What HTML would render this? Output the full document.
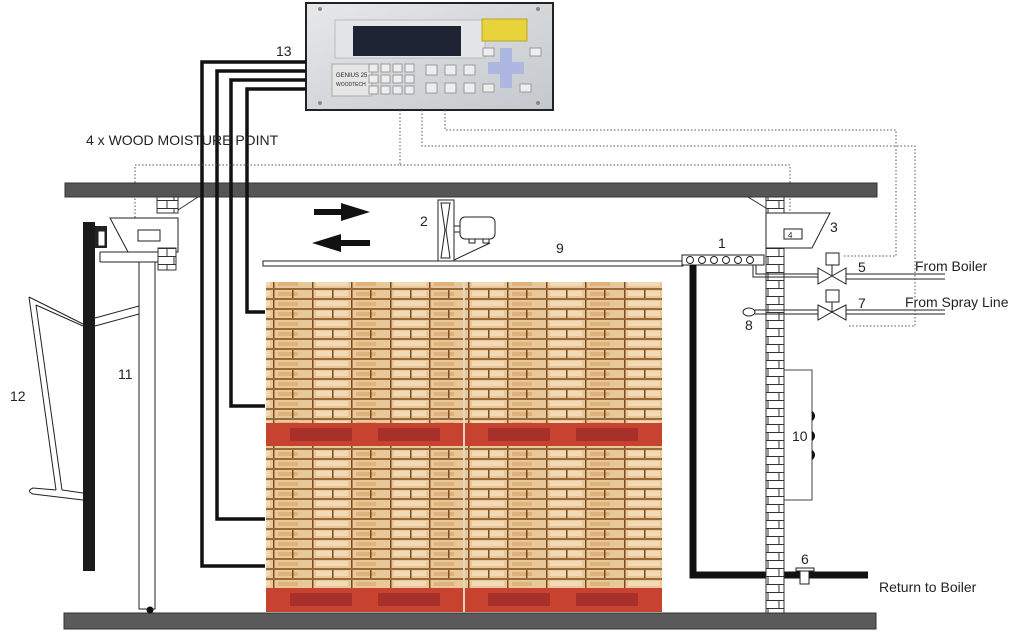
<!DOCTYPE html>
<html><head><meta charset="utf-8"><style>
html,body{margin:0;padding:0;background:#fff;width:1023px;height:640px;overflow:hidden}
svg{display:block}
text{font-family:"Liberation Sans",sans-serif;fill:#222}
</style></head><body>
<svg width="1023" height="640" viewBox="0 0 1023 640" xmlns="http://www.w3.org/2000/svg">
<defs>
<pattern id="wood" width="78" height="10" patternUnits="userSpaceOnUse">
<rect width="78" height="10" fill="#e8c898"/>
<rect y="8" width="78" height="2" fill="#9a6a3a"/>
<rect x="0" y="0" width="1.5" height="8" fill="#7a4a22"/>
<rect x="39" y="0" width="1.5" height="8" fill="#7a4a22"/>
<rect x="4" y="1" width="32" height="5" fill="#f2dab6"/>
<rect x="44" y="2" width="20" height="4" fill="#dfb27c"/>
</pattern>
<pattern id="wood2" width="78" height="20" patternUnits="userSpaceOnUse">
<rect width="78" height="20" fill="url(#wood)"/>
<rect x="20" y="10" width="1.5" height="8" fill="#7a4a22"/>
<rect x="58" y="10" width="1.5" height="8" fill="#7a4a22"/>
</pattern>
<pattern id="brick" width="18" height="16" patternUnits="userSpaceOnUse">
<rect width="18" height="16" fill="#fff"/>
<path d="M0 0.5H18M0 8.5H18M12 0V8M5 8V16" stroke="#333" stroke-width="1" fill="none"/>
</pattern>
<linearGradient id="silver" x1="0" y1="0" x2="1" y2="1">
<stop offset="0" stop-color="#e6e8ea"/><stop offset="1" stop-color="#c4c8cc"/>
</linearGradient>
</defs>

<!-- slabs -->
<rect x="65" y="183" width="812" height="14" fill="#555" stroke="#333"/>
<rect x="64" y="613" width="812" height="16" fill="#5a5a5a" stroke="#333"/>

<!-- controller -->
<rect x="306" y="3" width="247" height="107" fill="url(#silver)" stroke="#222" stroke-width="2"/>
<rect x="335" y="20" width="150" height="38" fill="#e4e5e6" stroke="#bbb"/>
<rect x="353" y="26" width="108" height="30" fill="#1f2434"/>
<rect x="482" y="19" width="45" height="22" fill="#e8d43a" stroke="#b9a52a"/>
<rect x="332" y="64" width="40" height="32" fill="#e6e6e6" stroke="#aaa"/>
<text x="336" y="77" font-size="6" fill="#555">GENIUS 25</text>
<text x="336" y="86" font-size="5" fill="#a33">WOODTECH</text>
<g fill="#eee" stroke="#999">
<rect x="369" y="64" width="9" height="8"/><rect x="381" y="64" width="9" height="8"/><rect x="393" y="64" width="9" height="8"/><rect x="405" y="64" width="9" height="8"/>
<rect x="369" y="75" width="9" height="8"/><rect x="381" y="75" width="9" height="8"/><rect x="393" y="75" width="9" height="8"/><rect x="405" y="75" width="9" height="8"/>
<rect x="369" y="86" width="9" height="8"/><rect x="381" y="86" width="9" height="8"/><rect x="393" y="86" width="9" height="8"/><rect x="405" y="86" width="9" height="8"/>
<rect x="426" y="65" width="11" height="10"/><rect x="445" y="65" width="11" height="10"/><rect x="464" y="65" width="11" height="10"/>
<rect x="426" y="83" width="11" height="10"/><rect x="445" y="83" width="11" height="10"/><rect x="464" y="83" width="11" height="10"/>
<rect x="483" y="48" width="11" height="8"/><rect x="530" y="48" width="11" height="8"/>
<rect x="483" y="84" width="11" height="8"/><rect x="520" y="84" width="11" height="8"/>
</g>
<path d="M500 48h12v14h12v12h-12v14h-12v-14h-12v-12h12z" fill="#aeb7e0"/>
<g fill="#888"><circle cx="320" cy="9" r="2"/><circle cx="538" cy="9" r="2"/><circle cx="320" cy="103" r="2"/><circle cx="538" cy="103" r="2"/></g>

<!-- cables -->
<g stroke="#111" stroke-width="3.5" fill="none">
<path d="M306 62H202V566H265"/>
<path d="M306 71H217V519H265"/>
<path d="M306 80H231V406H265"/>
<path d="M306 89H247V312H265"/>
</g>
<text x="276" y="56" font-size="14">13</text>
<text x="86" y="145" font-size="14">4 x  WOOD MOISTURE POINT</text>

<!-- dotted signal lines -->
<g stroke="#555" stroke-width="1" stroke-dasharray="1.5 2" fill="none">
<path d="M400 110V165H135V218"/>
<path d="M400 165H790V213"/>
<path d="M422 110V146H915V326H847"/>
<path d="M445 110V130H896V256H843"/>
</g>

<!-- left wall bits -->
<rect x="157" y="197" width="21" height="16" fill="url(#brick)" stroke="#333"/>
<polygon points="178,197 198,197 178,210" fill="#fff" stroke="#333"/>
<polygon points="110,218 178,218 178,252 128,252" fill="#fff" stroke="#222"/>
<rect x="138" y="230" width="22" height="11" fill="#fff" stroke="#222"/>
<rect x="158" y="248" width="18" height="22" fill="url(#brick)" stroke="#333"/>
<path d="M100 252H158M100 262H158M100 252V262" stroke="#222" fill="none"/>
<rect x="139" y="262" width="16" height="347" fill="#fff" stroke="#222"/>
<circle cx="150" cy="610" r="3.5" fill="#111"/>
<rect x="83" y="222" width="12" height="349" fill="#1a1a1a"/>
<rect x="95" y="226" width="12" height="22" fill="#222"/>
<rect x="98" y="231" width="7" height="15" fill="#fff" stroke="#222"/>
<text x="118" y="379" font-size="14">11</text>
<text x="10" y="401" font-size="14">12</text>
<g fill="none" stroke="#222" stroke-width="1">
<path d="M29 297L83 324M36 305L83 326"/>
<path d="M29 297L56 490M36 305L62 490"/>
<path d="M95 318L139 306M95 326L139 314"/>
<path d="M56 490L33 488Q26 491 33 494L83 500M62 490L83 493"/>
</g>

<!-- fan -->
<path d="M438 200V262H454V200Z" fill="#fff" stroke="#222"/>
<path d="M441 203L450 203L446 230L450 258L441 258L445 230Z" fill="#fff" stroke="#222"/>
<rect x="454" y="226" width="7" height="6" fill="#fff" stroke="#222"/>
<rect x="460" y="217" width="35" height="22" rx="5" fill="#fff" stroke="#222"/>
<rect x="469" y="239" width="6" height="4" fill="#fff" stroke="#222"/>
<rect x="483" y="239" width="6" height="4" fill="#fff" stroke="#222"/>
<path d="M454 260L490 243" stroke="#222"/>
<text x="420" y="226" font-size="14">2</text>
<path d="M314 209H341V203L370 212L341 221V215H314Z" fill="#111"/>
<path d="M370 240H341V234L312 243L341 252V246H370Z" fill="#111"/>

<!-- baffle 9 -->
<rect x="263" y="261" width="420" height="5" fill="#fff" stroke="#222"/>
<text x="556" y="253" font-size="14">9</text>

<!-- stacks -->
<rect x="266" y="282" width="396" height="141" fill="url(#wood2)"/>
<rect x="266" y="446" width="396" height="142" fill="url(#wood2)"/>
<rect x="266" y="423" width="396" height="23" fill="#c8432f"/>
<rect x="266" y="588" width="396" height="24" fill="#c8432f"/>
<g fill="#a8302a">
<rect x="290" y="428" width="62" height="13"/><rect x="378" y="428" width="62" height="13"/>
<rect x="488" y="428" width="62" height="13"/><rect x="576" y="428" width="62" height="13"/>
<rect x="290" y="593" width="62" height="13"/><rect x="378" y="593" width="62" height="13"/>
<rect x="488" y="593" width="62" height="13"/><rect x="576" y="593" width="62" height="13"/>
</g>
<rect x="463" y="282" width="2" height="330" fill="#e6d3c0"/>

<!-- heater header 1 -->
<rect x="682" y="255" width="82" height="10" fill="#fff" stroke="#222"/>
<g fill="#fff" stroke="#222"><circle cx="690" cy="260" r="3.5"/><circle cx="702" cy="260" r="3.5"/><circle cx="714" cy="260" r="3.5"/><circle cx="726" cy="260" r="3.5"/><circle cx="738" cy="260" r="3.5"/><circle cx="750" cy="260" r="3.5"/></g>
<text x="718" y="248" font-size="14">1</text>
<path d="M693 265V575H868" stroke="#111" stroke-width="7" fill="none"/>

<!-- right wall -->
<rect x="766" y="197" width="18" height="416" fill="url(#brick)" stroke="#333"/>
<polygon points="748,197 766,197 766,208" fill="#fff" stroke="#333"/>
<polygon points="766,213 830,213 812,248 766,248" fill="#fff" stroke="#222"/>
<rect x="784" y="229" width="18" height="10" fill="#fff" stroke="#222"/>
<text x="788" y="238" font-size="8">4</text>
<text x="830" y="232" font-size="14">3</text>

<!-- valves -->
<g fill="#fff" stroke="#222">
<path d="M753 265V277H818M756 265V274H818" fill="none"/>
<rect x="826" y="253" width="13" height="12"/>
<path d="M832 265V275"/>
<polygon points="818,268 832,276 818,284"/><polygon points="846,268 832,276 846,284"/>
<path d="M846 274H945M846 279H945" fill="none"/>
<rect x="826" y="290" width="13" height="12"/>
<path d="M832 302V312"/>
<polygon points="818,305 832,312 818,320"/><polygon points="846,305 832,312 846,320"/>
<path d="M846 310H945M846 314H945" fill="none"/>
<path d="M755 310H818M755 314H818" fill="none"/>
<ellipse cx="749" cy="312" rx="6" ry="4"/>
</g>
<text x="858" y="272" font-size="14">5</text>
<text x="915" y="271" font-size="14">From Boiler</text>
<text x="858" y="308" font-size="14">7</text>
<text x="905" y="307" font-size="14">From  Spray Line</text>
<text x="745" y="330" font-size="14">8</text>

<!-- radiator 10 -->
<path d="M784 370H812V500H784" fill="none" stroke="#444"/>
<path d="M812 412q4 4 0 8M812 432q4 4 0 8M812 451q4 4 0 8" fill="#111" stroke="#111" stroke-width="2"/>
<text x="792" y="441" font-size="14">10</text>

<!-- valve 6 -->
<rect x="796" y="568" width="18" height="3" fill="#fff" stroke="#222"/>
<rect x="800" y="571" width="9" height="13" fill="#fff" stroke="#222"/>
<text x="801" y="564" font-size="14">6</text>
<text x="879" y="592" font-size="14">Return to Boiler</text>
</svg>
</body></html>
